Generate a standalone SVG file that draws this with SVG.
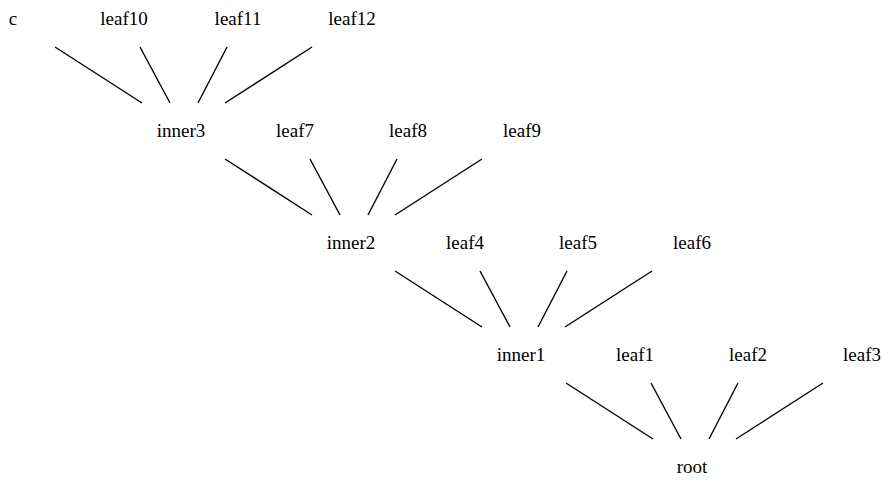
<svg xmlns="http://www.w3.org/2000/svg" width="883" height="483" viewBox="0 0 883 483">
<style>
text{font-family:'Liberation Serif','Times New Roman','DejaVu Serif',serif;font-size:19px;fill:#000;text-anchor:middle}
.e line{stroke:#000;stroke-width:1.4}
</style>
<rect width="883" height="483" fill="#fff"/>
<g class="e" id="connectors">
<line x1="55" y1="47" x2="142" y2="103"/>
<line x1="140" y1="47" x2="170" y2="103"/>
<line x1="227" y1="47" x2="198" y2="103"/>
<line x1="312" y1="47" x2="225" y2="103"/>
<line x1="225" y1="159" x2="312" y2="215"/>
<line x1="310" y1="159" x2="340" y2="215"/>
<line x1="397" y1="159" x2="368" y2="215"/>
<line x1="482" y1="159" x2="395" y2="215"/>
<line x1="395" y1="271" x2="482" y2="327"/>
<line x1="480" y1="271" x2="510" y2="327"/>
<line x1="567" y1="271" x2="538" y2="327"/>
<line x1="652" y1="271" x2="565" y2="327"/>
<line x1="566" y1="383" x2="653" y2="439"/>
<line x1="651" y1="383" x2="681" y2="439"/>
<line x1="738" y1="383" x2="709" y2="439"/>
<line x1="823" y1="383" x2="736" y2="439"/>
</g>
<g id="c"><text x="13" y="25" font-family="Liberation Serif, serif">c</text></g>
<g id="leaf10"><text x="124" y="25">leaf10</text></g>
<g id="leaf11"><text x="238" y="25">leaf11</text></g>
<g id="leaf12"><text x="352" y="25">leaf12</text></g>
<g id="inner3"><text x="181" y="137">inner3</text></g>
<g id="leaf7"><text x="295" y="137">leaf7</text></g>
<g id="leaf8"><text x="408" y="137">leaf8</text></g>
<g id="leaf9"><text x="522" y="137">leaf9</text></g>
<g id="inner2"><text x="351" y="249">inner2</text></g>
<g id="leaf4"><text x="465" y="249">leaf4</text></g>
<g id="leaf5"><text x="578" y="249">leaf5</text></g>
<g id="leaf6"><text x="692" y="249">leaf6</text></g>
<g id="inner1"><text x="521" y="361">inner1</text></g>
<g id="leaf1"><text x="635" y="361">leaf1</text></g>
<g id="leaf2"><text x="748" y="361">leaf2</text></g>
<g id="leaf3"><text x="862" y="361">leaf3</text></g>
<g id="root"><text x="692" y="473">root</text></g>
</svg>
